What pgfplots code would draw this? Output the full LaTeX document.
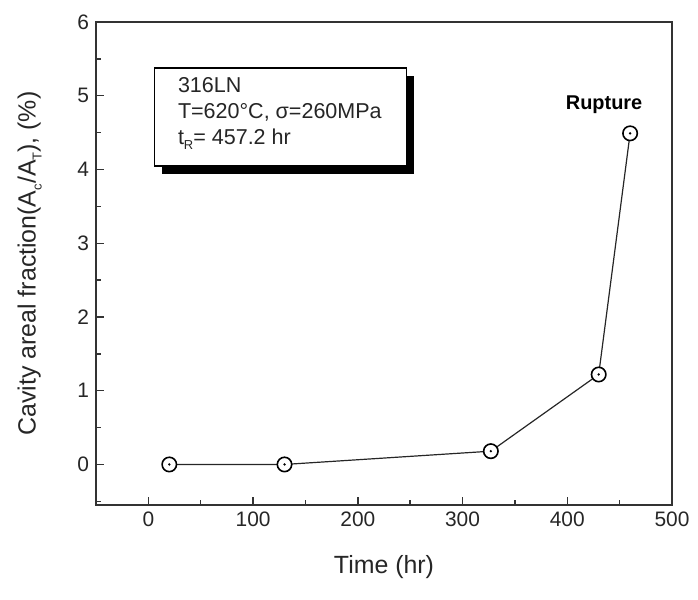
\documentclass[border=0pt]{standalone}
\usepackage{fontspec}
\setmainfont{Liberation Sans}
\usepackage{pgfplots}
\pgfplotsset{compat=1.18}
\usetikzlibrary{shadows}

% open circle with a dot in the middle
\pgfdeclareplotmark{odot}{%
  \pgfpathcircle{\pgfpointorigin}{\pgfplotmarksize}%
  \pgfsetfillcolor{white}\pgfusepathqfillstroke
  \pgfpathcircle{\pgfpointorigin}{0.18\pgfplotmarksize}%
  \pgfsetfillcolor{black}\pgfusepathqfill}

\newcommand{\sub}[1]{\raisebox{-0.45ex}{\fontsize{6.5}{7}\selectfont #1}}

\begin{document}
\begin{tikzpicture}
\begin{axis}[
    scale only axis,
    width=288bp, height=241.5bp,
    xmin=-50, xmax=500, ymin=-0.55, ymax=6,
    xtick={0,100,...,500}, ytick={0,1,...,6},
    minor xtick={-50,50,150,250,350,450},
    minor ytick={-0.5,0.5,1.5,2.5,3.5,4.5,5.5},
    tick align=inside, xtick pos=bottom, ytick pos=left,
    major tick length=4bp, minor tick length=2.5bp,
    axis line style={line width=0.9bp, black!80},
    every tick/.style={black!80, line width=0.7bp},
    tick label style={font=\fontsize{10.5}{12}\selectfont, black!85},
    /pgf/number format/assume math mode=true,
    xlabel={Time (hr)},
    ylabel={Cavity areal fraction(A\sub{c}/A\sub{T}), (\%)},
    label style={font=\fontsize{12.5}{14}\selectfont, black!85},
    xlabel style={yshift=-7.5bp},
    ylabel style={yshift=11bp},
    clip=false,
]
\addplot[black!85, line width=0.6bp, mark=odot, mark size=3.6bp,
    mark options={line width=0.8bp, black}]
  coordinates {(20,0) (130,0) (327,0.18) (430,1.22) (460,4.49)};
\node[anchor=south east, font=\bfseries\fontsize{10}{12}\selectfont, inner sep=0pt]
  at (axis cs:472,4.75) {Rupture};
\node[draw=black, line width=0.8bp, fill=white, anchor=north west,
    minimum width=126bp, minimum height=49bp, inner sep=0pt,
    drop shadow={shadow xshift=4bp, shadow yshift=-4bp, fill=black, opacity=1}]
  (box) at (axis cs:5,5.39) {};
\node[anchor=north west, align=left, inner sep=0pt,
    font=\fontsize{10.8}{13}\selectfont, black!85]
  at ([shift={(12bp,-5bp)}]box.north west)
  {316LN\\T=620°C, σ=260MPa\\t\sub{R}= 457.2 hr};
\end{axis}
\path ([shift={(-48bp,-47bp)}]current axis.south west)
  rectangle ([shift={(13bp,11bp)}]current axis.north east);
\end{tikzpicture}
\end{document}
